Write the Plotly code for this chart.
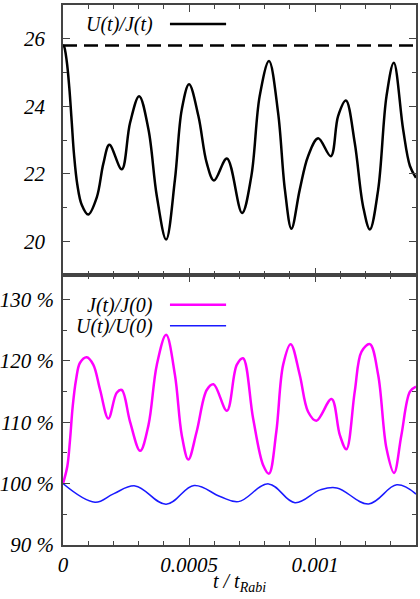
import plotly.graph_objects as go
from plotly.subplots import make_subplots

# U(t)/J(t), top panel
t_uj = [0.0, 0.000004, 0.0000147, 0.000025, 0.0000345, 0.0000437, 0.0000567, 0.0000742,
        0.0001, 0.000134, 0.00016, 0.000184, 0.000233, 0.000266, 0.000302, 0.000339,
        0.000372, 0.000409, 0.000444, 0.000471, 0.0005, 0.000537, 0.00057, 0.000599,
        0.00065, 0.00071, 0.000747, 0.00078, 0.000817, 0.000853, 0.00088, 0.000906,
        0.000939, 0.000972, 0.001012, 0.001062, 0.001091, 0.001122, 0.001157, 0.00119,
        0.001217, 0.00125, 0.001283, 0.001312, 0.001349, 0.001376, 0.0014]
u_over_j = [25.8, 25.78, 25.34, 24.55, 23.55, 22.57, 21.68, 21.08,
            20.79, 21.3, 22.3, 22.86, 22.13, 23.51, 24.3, 23.31,
            21.34, 20.05, 21.83, 23.9, 24.65, 23.71, 22.32, 21.8,
            22.45, 20.84, 21.93, 24.3, 25.34, 23.81, 21.53, 20.37,
            21.53, 22.52, 23.05, 22.52, 23.71, 24.17, 22.92, 21.04,
            20.35, 21.53, 24.3, 25.29, 23.31, 22.23, 21.88]
uj_initial = 25.8

# J(t)/J(0) in percent
t_j = [0.0, 0.000017, 0.0000278, 0.0000385, 0.0000516, 0.0000675, 0.000094, 0.00012,
       0.000147, 0.00018, 0.000213, 0.000233, 0.000266, 0.000306, 0.000339, 0.000372,
       0.000409, 0.000444, 0.000471, 0.000497, 0.00053, 0.00057, 0.000597, 0.00065,
       0.000689, 0.000714, 0.000754, 0.000794, 0.000817, 0.000846, 0.000873, 0.000903,
       0.000939, 0.000972, 0.001005, 0.001065, 0.001098, 0.001124, 0.001157, 0.001184,
       0.001217, 0.00125, 0.001283, 0.001313, 0.001342, 0.001376, 0.0014]
j_ratio = [100.0, 102.8, 107.1, 112.6, 116.9, 119.7, 120.6, 119.4,
           115.3, 110.6, 114.8, 115.26, 110.08, 105.34, 109.54, 119.35,
           124.25, 117.71, 107.9, 103.92, 108.45, 115.26, 116.19, 111.88,
           119.35, 120.44, 110.63, 103.0, 101.63, 108.45, 119.35, 122.73,
           117.71, 111.72, 110.25, 113.79, 107.9, 105.61, 114.99, 121.53,
           122.73, 117.71, 105.72, 101.74, 107.9, 114.99, 115.8]

# U(t)/U(0) in percent
t_u = [0.0, 0.000127, 0.0002, 0.000286, 0.000409, 0.00052, 0.000623, 0.000696,
       0.000815, 0.00092, 0.00102, 0.001086, 0.001212, 0.001324, 0.0014]
u_ratio = [100.0, 96.97, 98.33, 99.63, 96.65, 99.69, 97.9, 97.07,
           99.96, 96.9, 98.98, 99.3, 96.7, 99.8, 98.3]

x_tickvals = [0, 0.0005, 0.001]
x_ticktext = ["0", "0.0005", "0.001"]

SERIF = "Liberation Serif, Times New Roman, DejaVu Serif, serif"
FRAME = "#444444"
MAGENTA = "#ff00ff"
BLUE = "#1a1aff"

fig = make_subplots(rows=2, cols=1, shared_xaxes=True, vertical_spacing=0)

fig.add_trace(go.Scatter(x=[t_uj[0], t_uj[-1]], y=[uj_initial, uj_initial], mode="lines",
                         line=dict(color="black", width=2.5, dash="14px,7px"),
                         showlegend=False, hoverinfo="skip"), row=1, col=1)
fig.add_trace(go.Scatter(x=t_uj, y=u_over_j, mode="lines", line_shape="spline",
                         line=dict(color="black", width=2.5, smoothing=1.0),
                         showlegend=False), row=1, col=1)
fig.add_trace(go.Scatter(x=t_j, y=j_ratio, mode="lines", line_shape="spline",
                         line=dict(color=MAGENTA, width=2.5, smoothing=1.0),
                         showlegend=False), row=2, col=1)
fig.add_trace(go.Scatter(x=t_u, y=u_ratio, mode="lines", line_shape="spline",
                         line=dict(color=BLUE, width=1.5, smoothing=1.1),
                         showlegend=False), row=2, col=1)

tickfont = dict(family=SERIF, size=21, style="italic", color="black")
axis_common = dict(showline=True, linecolor=FRAME, linewidth=1.5, mirror="ticks",
                   ticks="inside", ticklen=7, tickcolor=FRAME, tickwidth=1,
                   showgrid=False, zeroline=False, tickfont=tickfont, automargin=False)

fig.update_xaxes(range=[0, 0.0014], tickvals=x_tickvals, ticktext=x_ticktext,
                 minor=dict(ticks="inside", ticklen=4, dtick=0.0001, tick0=0,
                            tickcolor=FRAME, showgrid=False),
                 **axis_common)
fig.update_xaxes(showticklabels=False, row=1, col=1)
fig.update_xaxes(ticklabelstandoff=0, row=2, col=1)

fig.update_yaxes(range=[19, 27], dtick=2, tick0=0,
                 minor=dict(ticks="inside", ticklen=4, dtick=1, tick0=0,
                            tickcolor=FRAME, showgrid=False),
                 ticklabelstandoff=12, row=1, col=1, **axis_common)
fig.update_yaxes(range=[90, 134], dtick=10, tick0=0, ticksuffix=" %",
                 minor=dict(ticks="inside", ticklen=4, dtick=5, tick0=0,
                            tickcolor=FRAME, showgrid=False),
                 ticklabelstandoff=3, row=2, col=1, **axis_common)

# gnuplot-style keys: label on the left, sample on the right
legend_font = dict(family=SERIF, size=20, style="italic", color="black")
keys = [
    ("U(t)/J(t)", 0.963, "black", 2.5),
    ("J(t)/J(0)", 0.443, MAGENTA, 2.5),
    ("U(t)/U(0)", 0.404, BLUE, 1.5),
]
for label, ypos, color, width in keys:
    fig.add_annotation(x=0.262, y=ypos, xref="paper", yref="paper", text=label,
                       showarrow=False, xanchor="right", yanchor="middle", font=legend_font)
    fig.add_shape(type="line", xref="paper", yref="paper", x0=0.303, x1=0.462,
                  y0=ypos + 0.002, y1=ypos + 0.002, line=dict(color=color, width=width))

fig.add_annotation(x=0.5, y=-0.07, xref="paper", yref="paper",
                   text="t / t<sub>Rabi</sub>", showarrow=False,
                   xanchor="center", yanchor="middle", font=legend_font)

fig.update_layout(
    width=420, height=599,
    margin=dict(l=63, r=4, t=5, b=54),
    paper_bgcolor="white", plot_bgcolor="white",
    showlegend=False,
)

fig.write_html("out.html", config={"displayModeBar": False},
               post_script="document.body.style.margin='0';")
